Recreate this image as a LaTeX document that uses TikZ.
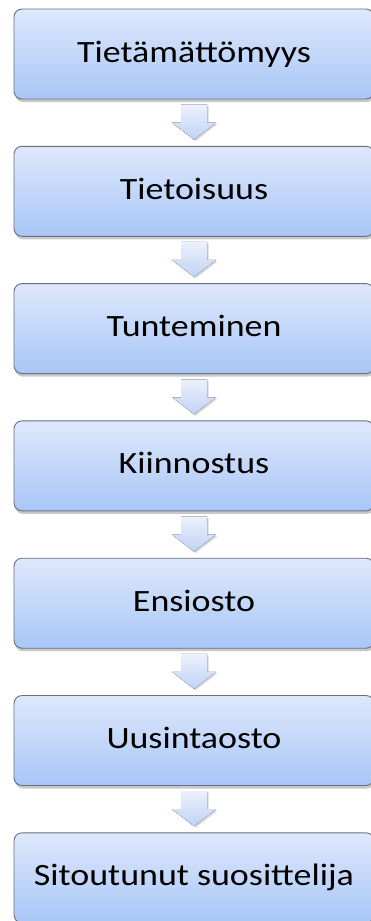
\documentclass[tikz,border=0pt]{standalone}
\usepackage{fontspec}
\usepackage{graphicx}
\setmainfont{Carlito}
\usetikzlibrary{calc,shadows}
\definecolor{boxtop}{RGB}{222,232,251}
\definecolor{boxbot}{RGB}{168,198,247}
\definecolor{boxline}{RGB}{105,113,128}
\definecolor{arrtop}{RGB}{236,241,252}
\definecolor{arrbot}{RGB}{192,210,245}
\newcommand\lbl[1]{\scalebox{1.16}[1]{#1}}
\tikzset{
  stagebox/.style={draw=boxline, line width=0.9pt, rounded corners=8pt,
    top color=boxtop, bottom color=boxbot,
    minimum width=360pt, minimum height=90pt, inner sep=0pt,
    text height=20pt, text depth=4pt,
    font=\fontsize{31}{37}\selectfont,
    drop shadow={shadow xshift=1pt, shadow yshift=-3pt, opacity=0.3, fill=black!70}},
  flowarrow/.style={top color=arrtop, bottom color=arrbot, draw=none,
    drop shadow={shadow xshift=1.5pt, shadow yshift=-1.5pt, opacity=0.15, fill=black}}
}
\begin{document}
\begin{tikzpicture}[x=1pt,y=1pt]
\clip (0,0) rectangle (371,-921);
\fill[white] (0,0) rectangle (371,-921);
\node[stagebox] (b1) at (194,-54)    {\lbl{Tietämättömyys}};
\node[stagebox] (b2) at (194,-191.3) {\lbl{Tietoisuus}};
\node[stagebox] (b3) at (194,-328.6) {\lbl{Tunteminen}};
\node[stagebox] (b4) at (194,-465.9) {\lbl{Kiinnostus}};
\node[stagebox] (b5) at (194,-603.2) {\lbl{Ensiosto}};
\node[stagebox] (b6) at (194,-740.5) {\lbl{Uusintaosto}};
\node[stagebox] (b7) at (194,-877.8) {\lbl{Sitoutunut suosittelija}};
\foreach \a/\b in {b1/b2,b2/b3,b3/b4,b4/b5,b5/b6,b6/b7}{
  \coordinate (m) at ($(\a.south)!0.5!(\b.north)$);
  \fill[flowarrow] ($(m)+(-13,18)$) -- ($(m)+(13,18)$) -- ($(m)+(13,0)$)
    -- ($(m)+(22,0)$) -- ($(m)+(0,-17)$) -- ($(m)+(-22,0)$) -- ($(m)+(-13,0)$) -- cycle;
}
\end{tikzpicture}
\end{document}
